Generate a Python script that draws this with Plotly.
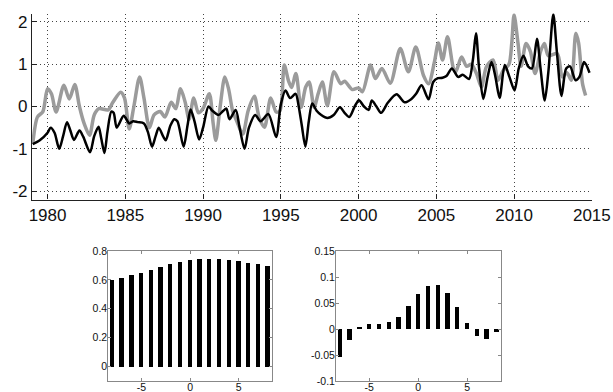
import plotly.graph_objects as go

# ---- main time series (year, value) ----
black_t = [1979.05, 1979.5, 1980.0, 1980.2, 1980.45, 1980.75, 1981.0, 1981.25, 1981.45, 1981.7,
           1982.05, 1982.3, 1982.73, 1983.0, 1983.28, 1983.45, 1983.66, 1983.85, 1984.1, 1984.25,
           1984.45, 1984.9, 1985.25, 1985.5, 1985.8, 1986.2, 1986.45, 1986.72, 1986.95, 1987.15,
           1987.45, 1987.6, 1987.9, 1988.15, 1988.35, 1988.75, 1989.0, 1989.2, 1989.45, 1989.75,
           1990.0, 1990.35, 1990.6, 1991.0, 1991.3, 1991.5, 1991.7, 1992.1, 1992.35, 1992.67,
           1992.95, 1993.35, 1993.7, 1994.2, 1994.7, 1995.0, 1995.3, 1995.6, 1995.95, 1996.15,
           1996.35, 1996.58, 1996.8, 1997.02, 1997.3, 1997.6, 1998.0, 1998.4, 1998.8, 1999.1,
           1999.4, 1999.75, 2000.02, 2000.35, 2000.65, 2000.85, 2001.15, 2001.45, 2001.9, 2002.45,
           2002.95, 2003.4, 2003.7, 2004.05, 2004.5, 2004.8, 2005.1, 2005.4, 2005.65, 2006.0,
           2006.4, 2006.7, 2007.1, 2007.35, 2007.55, 2007.75, 2008.02, 2008.3, 2008.55, 2008.8,
           2009.07, 2009.4, 2009.7, 2010.03, 2010.3, 2010.6, 2010.9, 2011.15, 2011.47, 2011.7,
           2011.97, 2012.2, 2012.52, 2012.75, 2013.05, 2013.35, 2013.6, 2013.95, 2014.2, 2014.5,
           2014.85]
black_v = [-0.89, -0.8, -0.62, -0.5, -0.62, -1.0, -0.7, -0.37, -0.55, -0.79,
           -0.57, -0.72, -1.08, -0.7, -0.48, -0.75, -1.1, -0.6, -0.12, -0.15,
           -0.5, -0.22, -0.4, -0.35, -0.37, -0.4, -0.6, -0.95, -0.7, -0.5,
           -0.72, -0.8, -0.45, -0.3, -0.35, -0.95, -0.45, -0.07, -0.35, -0.78,
           -0.5, 0.0, -0.1, -0.2, -0.1, -0.05, -0.3, -0.08, -0.5, -1.0,
           -0.5, -0.2, -0.35, -0.18, -0.72, 0.05, 0.38, 0.2, 0.3, 0.0,
           -0.45, -0.95, -0.35, 0.07, -0.1, -0.2, -0.27, -0.2, -0.02, -0.15,
           -0.25, 0.0, 0.15, 0.0, -0.08, 0.14, 0.0, -0.15, 0.1, 0.29,
           0.1, 0.18, 0.3, 0.5, 0.17, 0.58, 0.67, 0.68, 0.72, 0.9,
           0.7, 0.75, 0.65, 1.1, 1.73, 0.9, 0.18, 0.7, 1.05, 0.7,
           0.2, 0.98, 0.7, 0.38, 0.9, 1.2, 0.95, 0.9, 1.6, 0.9,
           0.14, 0.8, 2.18, 1.3, 0.25, 0.9, 0.95, 0.62, 0.7, 1.05,
           0.8]

gray_t = [1979.05, 1979.35, 1979.7, 1980.0, 1980.25, 1980.55, 1981.05, 1981.4, 1981.75, 1982.05,
          1982.35, 1982.7, 1983.0, 1983.3, 1983.9, 1984.2, 1984.7, 1984.95, 1985.25, 1985.55,
          1985.92, 1986.2, 1986.55, 1986.85, 1987.25, 1987.55, 1987.95, 1988.25, 1988.55, 1988.85,
          1989.1, 1989.4, 1989.7, 1990.0, 1990.4, 1990.65, 1990.82, 1991.1, 1991.4, 1991.65,
          1991.9, 1992.15, 1992.55, 1992.9, 1993.3, 1993.6, 1993.95, 1994.35, 1994.7, 1994.95,
          1995.22, 1995.5, 1995.7, 1995.97, 1996.3, 1996.6, 1996.82, 1997.14, 1997.4, 1997.67,
          1997.99, 1998.42, 1998.85, 1999.1, 1999.6, 2000.0, 2000.25, 2000.77, 2001.08, 2001.5,
          2002.04, 2002.68, 2003.2, 2003.68, 2004.17, 2004.5, 2004.88, 2005.13, 2005.4, 2005.72,
          2006.1, 2006.25, 2006.62, 2006.95, 2007.25, 2007.58, 2007.9, 2008.22, 2008.65, 2008.97,
          2009.3, 2009.67, 2009.85, 2010.0, 2010.25, 2010.45, 2010.77, 2011.05, 2011.35, 2011.7,
          2011.95, 2012.2, 2012.78, 2013.1, 2013.4, 2013.68, 2013.97, 2014.15, 2014.4, 2014.6]
gray_v = [-0.89, -0.25, -0.12, 0.42, 0.3, -0.13, 0.5, 0.18, 0.52, 0.0,
          -0.4, -0.68, -0.2, -0.05, -0.08, 0.1, 0.34, 0.2, -0.53, 0.0,
          0.7, 0.2, -0.5, -0.2, -0.12, -0.25, 0.1, -0.05, 0.42, 0.1,
          -0.3, 0.2, -0.15, -0.05, 0.3, -0.4, -0.8, 0.0, 0.7, 0.4,
          -0.1, -0.33, -0.65, -0.1, 0.24, -0.25, -0.49, 0.2, -0.13, -0.1,
          0.98, 0.6, 0.45, 0.78, -0.02, 0.46, 0.58, -0.02, 0.3, 0.58,
          0.02, 0.82, 0.54, 0.6, 0.4, 0.44, 0.35, 0.98, 0.66, 0.9,
          0.55, 1.37, 0.82, 1.41, 0.74, 0.54, 1.06, 1.5, 1.1, 1.65,
          0.9, 0.82, 1.17, 0.95, 1.0, 0.78, 0.46, 0.94, 1.1, 0.62,
          0.85, 1.0, 1.5, 2.17, 1.5, 0.95, 1.49, 1.3, 0.78, 1.3,
          1.49, 1.2, 1.25, 0.7, 0.8, 0.62, 1.73, 1.5, 0.54, 0.26]

year_ticks = [1980, 1985, 1990, 1995, 2000, 2005, 2010, 2015]
value_ticks = [-2, -1, 0, 1, 2]
value_labels = ["-2", "-1", "0", "1", "2"]

# ---- lagged correlations ----
lags = list(range(-8, 9))
corr_left = [0.597, 0.613, 0.631, 0.649, 0.667, 0.688, 0.709, 0.725, 0.741,
             0.745, 0.747, 0.745, 0.741, 0.731, 0.718, 0.711, 0.697]
corr_right = [-0.054, -0.021, 0.002, 0.009, 0.010, 0.013, 0.024, 0.044, 0.067,
              0.0825, 0.084, 0.069, 0.042, 0.011, -0.0125, -0.019, -0.006]
left_ticks = [0, 0.2, 0.4, 0.6, 0.8]
left_labels = ["0", "0.2", "0.4", "0.6", "0.8"]
right_ticks = [-0.1, -0.05, 0, 0.05, 0.1, 0.15]
right_labels = ["-0.1", "-0.05", "0", "0.05", "0.1", "0.15"]
lag_ticks = [-5, 0, 5]
lag_labels = ["-5", "0", "5"]

W, H = 613, 392
def px(a, b):
    return [a / W, b / W]
def py(top, bottom):
    return [1 - bottom / H, 1 - top / H]

fig = go.Figure()
fig.add_trace(go.Scatter(x=gray_t, y=gray_v, mode="lines",
                         line=dict(color="#9b9b9b", width=3.5, shape="spline", smoothing=0.8),
                         xaxis="x", yaxis="y", showlegend=False))
fig.add_trace(go.Scatter(x=black_t, y=black_v, mode="lines",
                         line=dict(color="#000000", width=2.5, shape="spline", smoothing=0.8),
                         xaxis="x", yaxis="y", showlegend=False))
fig.add_trace(go.Bar(x=lags, y=corr_left, width=0.45, marker=dict(color="black", line=dict(width=0)),
                     xaxis="x2", yaxis="y2", showlegend=False))
fig.add_trace(go.Bar(x=lags, y=corr_right, width=0.45, marker=dict(color="black", line=dict(width=0)),
                     xaxis="x3", yaxis="y3", showlegend=False))

main_font = dict(family="Liberation Sans, Arial, sans-serif", size=17, color="#111")
small_font = dict(family="Liberation Sans, Arial, sans-serif", size=10.5, color="#111")
grid = dict(showgrid=True, gridcolor="#444", griddash="1px,3px", gridwidth=1, zeroline=False)

small_ax = dict(showline=True, linecolor="#888", linewidth=1, mirror="ticks", ticks="inside",
                ticklen=3, tickcolor="#888", showgrid=False, zeroline=False, tickfont=small_font,
                automargin=False)

fig.update_layout(
    width=W, height=H, margin=dict(l=0, r=0, t=0, b=0, autoexpand=False),
    paper_bgcolor="white", plot_bgcolor="white", bargap=0,
    xaxis=dict(domain=px(32, 592), range=[1979, 2015.01], tickvals=year_ticks,
               showline=True, linecolor="#222", linewidth=1.2, ticks="inside", ticklen=5,
               tickcolor="#222", tickfont=main_font, anchor="y", automargin=False, **grid),
    yaxis=dict(domain=py(13.5, 199.5), range=[-2.2, 2.2], tickvals=value_ticks, ticktext=value_labels,
               showline=True, linecolor="#222", linewidth=1.2, ticks="inside", ticklen=5,
               tickcolor="#222", tickfont=main_font, anchor="x", automargin=False, **grid),
    xaxis2=dict(domain=px(108.3, 272.3), range=[-8.4, 8.45], tickvals=lag_ticks, ticktext=lag_labels,
                anchor="y2", ticklabelstandoff=-4, **small_ax),
    yaxis2=dict(domain=py(251, 381), range=[-0.1, 0.8], tickvals=left_ticks, ticktext=left_labels,
                anchor="x2", ticklabelstandoff=-2, **small_ax),
    xaxis3=dict(domain=px(336, 501.3), range=[-8.4, 8.5], tickvals=lag_ticks, ticktext=lag_labels,
                anchor="y3", ticklabelstandoff=-4, **small_ax),
    yaxis3=dict(domain=py(251, 381), range=[-0.1, 0.15], tickvals=right_ticks, ticktext=right_labels,
                anchor="x3", ticklabelstandoff=-2, **small_ax),
)

fig.write_html("out.html", config={"displayModeBar": False},
               post_script="document.body.style.margin='0';document.body.style.overflow='hidden';")
